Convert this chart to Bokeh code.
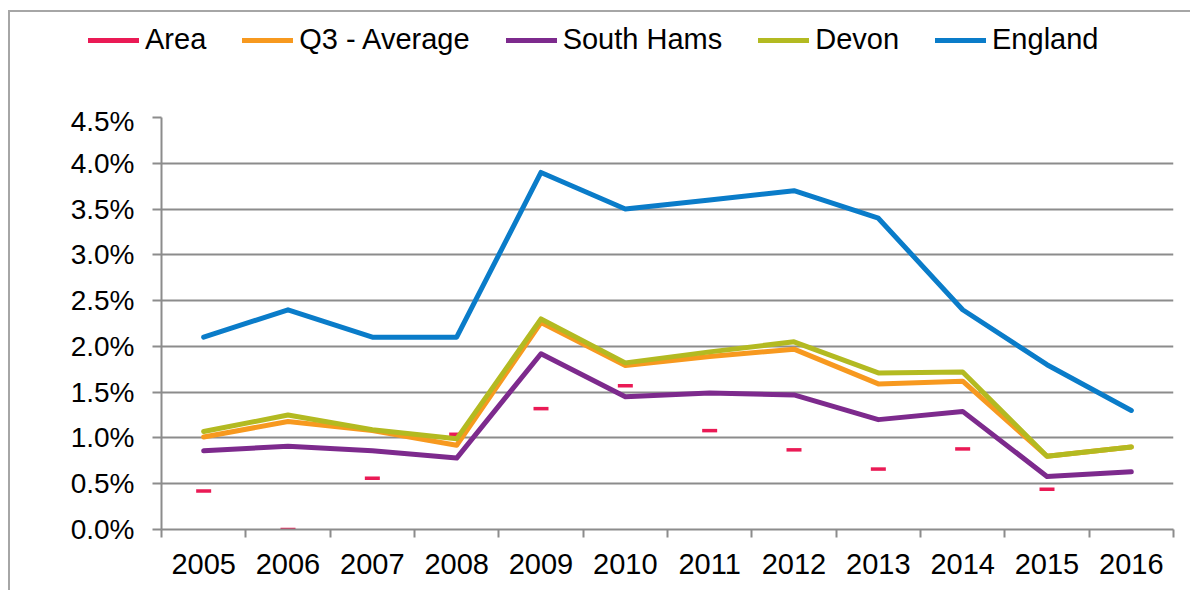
import numpy as np
from bokeh.plotting import figure
from bokeh.layouts import column
from bokeh.models import (Range1d, FixedTicker, NumeralTickFormatter, Legend, LegendItem)
from bokeh.embed import file_html
from bokeh.resources import INLINE

years = ["2005", "2006", "2007", "2008", "2009", "2010", "2011", "2012", "2013", "2014", "2015", "2016"]
area = [0.42, 0.00, 0.56, 1.04, 1.32, 1.57, 1.08, 0.87, 0.66, 0.88, 0.44, np.nan]
q3_average = [1.01, 1.18, 1.08, 0.92, 2.26, 1.79, 1.89, 1.97, 1.59, 1.62, 0.80, 0.90]
south_hams = [0.86, 0.91, 0.86, 0.78, 1.92, 1.45, 1.49, 1.47, 1.20, 1.29, 0.58, 0.63]
devon = [1.07, 1.25, 1.09, 0.99, 2.30, 1.82, 1.94, 2.05, 1.71, 1.72, 0.80, 0.90]
england = [2.10, 2.40, 2.10, 2.10, 3.90, 3.50, 3.60, 3.70, 3.40, 2.40, 1.80, 1.30]
y_ticks = [0.0, 0.5, 1.0, 1.5, 2.0, 2.5, 3.0, 3.5, 4.0, 4.5]
series_names = ["Area", "Q3 - Average", "South Hams", "Devon", "England"]

FONT = "Liberation Sans"
GRID = "#8c8c8c"
colors = {"Area": "#ea1a55", "Q3 - Average": "#f7991f", "South Hams": "#7d2a8d",
          "Devon": "#b3ba21", "England": "#0a7cc9"}
LW = 5

xs = np.arange(len(years)) + 0.5
pct = lambda v: np.array(v, dtype=float) / 100.0

W = 1180
LEG_H = 93

# ---------- legend strip ----------
lf = figure(width=W, height=LEG_H, output_backend="svg", toolbar_location=None,
            x_axis_type=None, y_axis_type=None, min_border=0,
            x_range=Range1d(0, 1), y_range=Range1d(0, 1))
lf.frame_align = False
lf.outline_line_color = None
lf.xgrid.grid_line_color = None
lf.ygrid.grid_line_color = None
leg_items = []
for name in series_names:
    r = lf.line([0, 1], [np.nan, np.nan], line_color=colors[name], line_width=LW,
                line_cap="round")
    leg_items.append(LegendItem(label=name, renderers=[r]))
legend = Legend(items=leg_items, orientation="horizontal", location=(78, 49),
                glyph_width=51, glyph_height=32, label_height=32, label_standoff=6,
                spacing=36, padding=0, margin=0, border_line_color=None,
                background_fill_alpha=0, label_text_font=FONT,
                label_text_font_size="29px", label_text_color="black")
lf.add_layout(legend, "center")

# ---------- main chart ----------
p = figure(width=W, height=578 - LEG_H, output_backend="svg", toolbar_location=None,
           x_range=Range1d(0, len(years)), y_range=Range1d(0, y_ticks[-1] / 100.0),
           min_border_left=151, min_border_right=17, min_border_top=105 - LEG_H,
           min_border_bottom=61)
p.frame_align = False
p.outline_line_color = None
p.background_fill_color = "white"
p.border_fill_color = "white"

p.yaxis.ticker = FixedTicker(ticks=[t / 100.0 for t in y_ticks], minor_ticks=[])
p.yaxis.formatter = NumeralTickFormatter(format="0.0%")
p.yaxis.major_tick_out = 9
p.yaxis.major_tick_in = 0
p.yaxis.major_tick_line_color = GRID
p.yaxis.major_tick_line_width = 2
p.yaxis.axis_line_color = GRID
p.yaxis.axis_line_width = 2
p.yaxis.major_label_standoff = 18
p.yaxis.major_label_text_font = FONT
p.yaxis.major_label_text_font_size = "28px"
p.yaxis.major_label_text_color = "black"

p.xaxis.ticker = FixedTicker(ticks=list(xs), minor_ticks=list(range(len(years) + 1)))
p.xaxis.major_label_overrides = {float(x): y for x, y in zip(xs, years)}
p.xaxis.major_tick_out = 8
p.xaxis.major_tick_in = 0
p.xaxis.major_tick_line_color = None
p.xaxis.minor_tick_out = 8
p.xaxis.minor_tick_in = 0
p.xaxis.minor_tick_line_color = GRID
p.xaxis.minor_tick_line_width = 2
p.xaxis.axis_line_color = GRID
p.xaxis.axis_line_width = 2
p.xaxis.major_label_standoff = 16
p.xaxis.major_label_text_font = FONT
p.xaxis.major_label_text_font_size = "29px"
p.xaxis.major_label_text_color = "black"

p.xgrid.grid_line_color = None
p.ygrid.ticker = FixedTicker(ticks=[t / 100.0 for t in y_ticks], minor_ticks=[])
p.ygrid.grid_line_color = GRID
p.ygrid.grid_line_width = 2

p.scatter(xs, pct(area), marker="dash", size=15, line_color=colors["Area"], line_width=3.5)
for name, vals in [("Q3 - Average", q3_average), ("South Hams", south_hams),
                   ("Devon", devon), ("England", england)]:
    p.line(xs, pct(vals), line_color=colors[name], line_width=LW,
           line_cap="round", line_join="round")

layout = column(lf, p, spacing=0,
                styles={"border-left": "2px solid #a6a6a6", "border-top": "2px solid #a6a6a6",
                        "margin-top": "10px", "margin-left": "8px"})

open("out.html", "w").write(file_html(layout, INLINE))
